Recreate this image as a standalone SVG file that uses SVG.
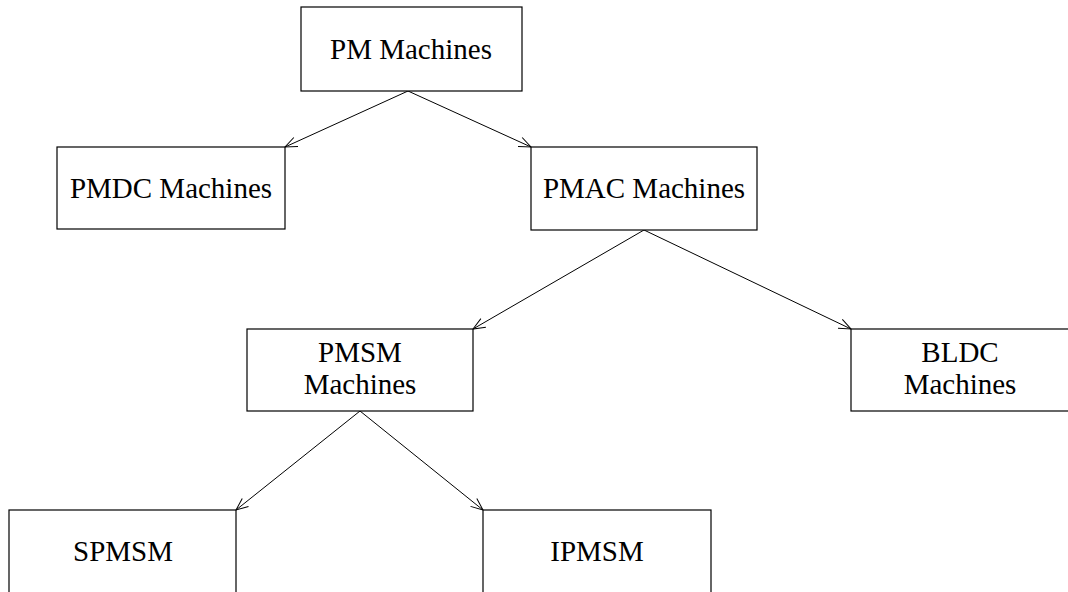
<svg xmlns="http://www.w3.org/2000/svg" width="1068" height="592" viewBox="0 0 1068 592">
<style>
.box{fill:#fff;stroke:#000;stroke-width:1.2}
.t{font-family:"Liberation Serif","Times New Roman",serif;font-size:29px;fill:#000;text-anchor:middle}
.c{stroke:#000;stroke-width:1;fill:none;marker-end:url(#arr)}
</style>
<defs>
<marker id="arr" markerUnits="userSpaceOnUse" markerWidth="16" markerHeight="16" refX="13" refY="6" orient="auto" viewBox="0 0 16 12">
<path d="M1,1 L13,6 L1,11" fill="none" stroke="#000" stroke-width="1"/>
</marker>
</defs>
<rect width="1068" height="592" fill="#fff"/>
<g id="connectors">
<line class="c" x1="408" y1="91" x2="285" y2="147"/>
<line class="c" x1="408" y1="91" x2="531" y2="147"/>
<line class="c" x1="644" y1="230" x2="473" y2="329"/>
<line class="c" x1="644" y1="230" x2="851" y2="329"/>
<line class="c" x1="360" y1="411" x2="236" y2="510"/>
<line class="c" x1="360" y1="411" x2="483" y2="510"/>
</g>
<g id="pm"><rect class="box" x="301" y="7" width="221" height="84"/><text class="t" x="411" y="59">PM Machines</text></g>
<g id="pmdc"><rect class="box" x="57" y="147" width="228" height="82"/><text class="t" x="171" y="198">PMDC Machines</text></g>
<g id="pmac"><rect class="box" x="531" y="147" width="226" height="83"/><text class="t" x="644" y="198">PMAC Machines</text></g>
<g id="pmsm"><rect class="box" x="247" y="329" width="226" height="82"/><text class="t" x="360" y="362">PMSM</text><text class="t" x="360" y="394">Machines</text></g>
<g id="bldc"><rect class="box" x="851" y="329" width="218" height="82"/><text class="t" x="960" y="362">BLDC</text><text class="t" x="960" y="394">Machines</text></g>
<g id="spmsm"><rect class="box" x="9" y="510" width="227" height="84"/><text class="t" x="123" y="561">SPMSM</text></g>
<g id="ipmsm"><rect class="box" x="483" y="510" width="228" height="84"/><text class="t" x="597" y="561">IPMSM</text></g>
</svg>
